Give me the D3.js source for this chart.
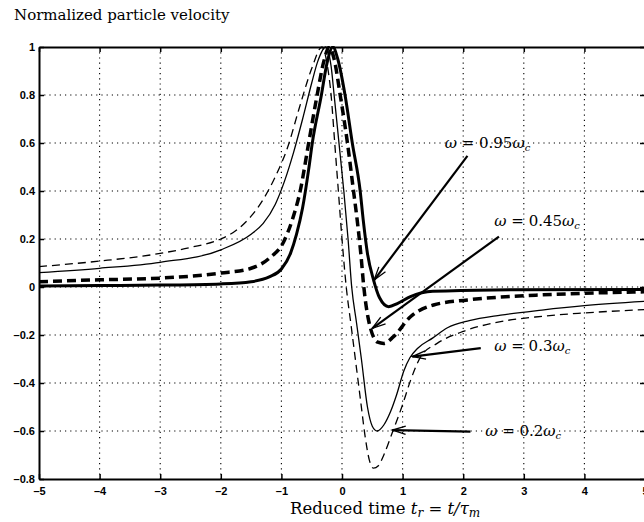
<!DOCTYPE html>
<html>
<head>
<meta charset="utf-8">
<script src="https://cdn.jsdelivr.net/npm/d3@7"></script>
<style>
    body { margin: 0; background: #fff; }
    #chart { width: 644px; height: 522px; overflow: hidden; }
    .tick text { font-family: "Liberation Sans", Arial, sans-serif; font-weight: bold; font-size: 11px; fill: #000; }
    .serif { font-family: "DejaVu Serif", serif; fill: #000; }
</style>
</head>
<body>
<div id="chart"></div>
<script>

// axis ticks
const xTicks = [-5, -4, -3, -2, -1, 0, 1, 2, 3, 4, 5];
const yTicks = [-0.8, -0.6, -0.4, -0.2, 0, 0.2, 0.4, 0.6, 0.8, 1];

// curves: [reduced time, normalized velocity]
const w095 = [[-5, 0.004], [-4, 0.006], [-3, 0.008], [-2, 0.013], [-1.5, 0.022], [-1.2, 0.042], [-1.0, 0.075],
    [-0.85, 0.14], [-0.75, 0.22], [-0.65, 0.33], [-0.55, 0.49], [-0.49, 0.6], [-0.34, 0.8], [-0.25, 0.93],
    [-0.15, 1.0], [-0.07, 0.95], [0.05, 0.8], [0.17, 0.6], [0.3, 0.4], [0.35, 0.28], [0.42, 0.14], [0.52, 0.03],
    [0.62, -0.045], [0.77, -0.082], [0.92, -0.068], [1.13, -0.04], [1.5, -0.018], [2.5, -0.012], [5, -0.01]];

const w045 = [[-5, 0.022], [-4, 0.03], [-3, 0.037], [-2, 0.058], [-1.5, 0.078], [-1.2, 0.12], [-0.96, 0.19],
    [-0.82, 0.28], [-0.69, 0.4], [-0.55, 0.6], [-0.41, 0.8], [-0.3, 0.94], [-0.21, 1.0], [-0.13, 0.95],
    [-0.03, 0.8], [0.09, 0.6], [0.19, 0.4], [0.25, 0.28], [0.31, 0.14], [0.36, 0.0], [0.44, -0.14],
    [0.59, -0.23], [0.69, -0.235], [0.85, -0.207], [1.13, -0.124], [1.51, -0.075], [2.07, -0.054],
    [2.62, -0.042], [3.28, -0.033], [5, -0.02]];

const w03 = [[-5, 0.06], [-4, 0.078], [-3, 0.103], [-2, 0.155], [-1.5, 0.22], [-1.3, 0.265], [-1.1, 0.345],
    [-0.95, 0.44], [-0.8, 0.56], [-0.65, 0.7], [-0.5, 0.85], [-0.4, 0.94], [-0.27, 1.0], [-0.18, 0.92],
    [-0.13, 0.8], [-0.05, 0.6], [0.03, 0.4], [0.1, 0.2], [0.16, 0.0], [0.24, -0.15], [0.32, -0.3],
    [0.42, -0.5], [0.5, -0.58], [0.58, -0.6], [0.69, -0.575], [0.8, -0.52], [0.9, -0.45], [1.02, -0.35],
    [1.12, -0.295], [1.25, -0.255], [1.5, -0.212], [1.74, -0.17], [2.1, -0.14], [2.62, -0.117], [3.3, -0.096],
    [4, -0.078], [5, -0.06]];

const w02 = [[-5, 0.085], [-4, 0.108], [-3, 0.14], [-2.5, 0.165], [-2, 0.2], [-1.75, 0.235], [-1.5, 0.295],
    [-1.3, 0.365], [-1.1, 0.46], [-0.9, 0.58], [-0.7, 0.75], [-0.5, 0.91], [-0.33, 1.0], [-0.24, 0.92],
    [-0.18, 0.8], [-0.12, 0.6], [-0.06, 0.4], [0.0, 0.2], [0.07, 0.0], [0.15, -0.16], [0.23, -0.32],
    [0.31, -0.48], [0.38, -0.62], [0.45, -0.72], [0.52, -0.755], [0.6, -0.745], [0.69, -0.7], [0.84, -0.6],
    [1.0, -0.49], [1.13, -0.39], [1.3, -0.29], [1.57, -0.235], [2.0, -0.185], [2.5, -0.15], [3.3, -0.122],
    [4, -0.108], [5, -0.094]];

// annotations: frequency labels, arrow start, arrow tip, label centre (data units)
const omegaLabels = ["0.95", "0.45", "0.3", "0.2"];
const arrowFrom = [[2.07, 0.546], [2.59, 0.21], [2.29, -0.255], [2.12, -0.603]];
const arrowTo = [[0.53, 0.029], [0.5, -0.172], [1.16, -0.29], [0.83, -0.596]];
const labelAt = [[2.4, 0.6], [3.22, 0.275], [3.14, -0.245], [2.99, -0.6]];

class VelocityVis {

    constructor(parentElement) {
        this.parentElement = parentElement;
        this.initVis();
    }

    initVis() {
        let vis = this;

        vis.margin = {top: 47, right: -1, bottom: 43, left: 39};
        vis.width = 644 - vis.margin.left - vis.margin.right;
        vis.height = 522 - vis.margin.top - vis.margin.bottom;

        vis.svg = d3.select("#" + vis.parentElement).append("svg")
            .attr("width", 644)
            .attr("height", 522);

        vis.g = vis.svg.append("g")
            .attr("transform", `translate(${vis.margin.left}, ${vis.margin.top})`);

        vis.x = d3.scaleLinear().domain([-5, 5]).range([0, vis.width]);
        vis.y = d3.scaleLinear().domain([-0.8, 1]).range([vis.height, 0]);

        // dotted grid
        vis.g.selectAll(".vgrid")
            .data(xTicks.slice(1, -1))
            .enter().append("line")
            .attr("x1", d => vis.x(d)).attr("x2", d => vis.x(d))
            .attr("y1", 0).attr("y2", vis.height)
            .attr("stroke", "#000").attr("stroke-width", 1.1)
            .attr("stroke-dasharray", "1.2,4");

        vis.g.selectAll(".hgrid")
            .data(yTicks.slice(1, -1))
            .enter().append("line")
            .attr("x1", 0).attr("x2", vis.width)
            .attr("y1", d => vis.y(d)).attr("y2", d => vis.y(d))
            .attr("stroke", "#000").attr("stroke-width", 1.1)
            .attr("stroke-dasharray", "1.2,4");

        let fmt = d => (d < 0 ? "\u2013" : "") + Math.abs(d);

        let xAxis = d3.axisBottom(vis.x).tickValues(xTicks).tickFormat(fmt).tickSize(-5).tickSizeOuter(0).tickPadding(8);
        let yAxis = d3.axisLeft(vis.y).tickValues(yTicks).tickFormat(fmt).tickSize(-5).tickSizeOuter(0).tickPadding(4);
        let topAxis = d3.axisTop(vis.x).tickValues(xTicks).tickFormat("").tickSize(-5).tickSizeOuter(0);
        let rightAxis = d3.axisRight(vis.y).tickValues(yTicks).tickFormat("").tickSize(-5).tickSizeOuter(0);

        vis.g.append("g").attr("transform", `translate(0, ${vis.height})`).call(xAxis);
        vis.g.append("g").call(yAxis);
        vis.g.append("g").call(topAxis);
        vis.g.append("g").attr("transform", `translate(${vis.width}, 0)`).call(rightAxis);

        vis.g.selectAll(".domain").attr("stroke", "#000").attr("stroke-width", 2);
        vis.g.selectAll(".tick line").attr("stroke", "#000").attr("stroke-width", 1.5);
        vis.g.selectAll(".tick text").attr("fill", "#000");

        // curves
        vis.g.append("clipPath").attr("id", "plotClip")
            .append("rect").attr("width", vis.width).attr("height", vis.height + 1).attr("y", -1);

        vis.line = d3.line()
            .x(d => vis.x(d[0]))
            .y(d => vis.y(d[1]))
            .curve(d3.curveMonotoneX);

        let series = [
            {data: w02, width: 1.3, dash: "8,5"},
            {data: w03, width: 1.3, dash: null},
            {data: w045, width: 3.5, dash: "9,5"},
            {data: w095, width: 3, dash: null}
        ];

        vis.g.append("g").attr("clip-path", "url(#plotClip)")
            .selectAll(".curve")
            .data(series)
            .enter().append("path")
            .attr("class", "curve")
            .attr("d", d => vis.line(d.data))
            .attr("fill", "none")
            .attr("stroke", "#000")
            .attr("stroke-width", d => d.width)
            .attr("stroke-dasharray", d => d.dash);

        vis.drawAnnotations();

        // title and x label
        vis.svg.append("text")
            .attr("class", "serif")
            .attr("x", 14).attr("y", 20)
            .style("font-size", "15px")
            .text("Normalized particle velocity");

        let xl = vis.svg.append("text")
            .attr("class", "serif")
            .attr("x", 290).attr("y", 514)
            .style("font-size", "16.5px");
        xl.append("tspan").text("Reduced time ");
        xl.append("tspan").style("font-style", "italic").text("t");
        xl.append("tspan").style("font-style", "italic").style("font-size", "12px").attr("dy", 3).text("r");
        xl.append("tspan").attr("dy", -3).text(" = ");
        xl.append("tspan").style("font-style", "italic").text("t/\u03c4");
        xl.append("tspan").style("font-style", "italic").style("font-size", "12px").attr("dy", 3).text("m");
    }

    drawAnnotations() {
        let vis = this;
        let ann = vis.g.append("g");

        omegaLabels.forEach((lab, i) => {
            let x0 = vis.x(arrowFrom[i][0]), y0 = vis.y(arrowFrom[i][1]);
            let x1 = vis.x(arrowTo[i][0]), y1 = vis.y(arrowTo[i][1]);
            let ang = Math.atan2(y0 - y1, x0 - x1);
            let len = 14, spread = 0.3;

            ann.append("line")
                .attr("x1", x0).attr("y1", y0).attr("x2", x1).attr("y2", y1)
                .attr("stroke", "#000").attr("stroke-width", 2.2);

            ann.append("path")
                .attr("d", `M${x1 + len * Math.cos(ang + spread)},${y1 + len * Math.sin(ang + spread)}` +
                    `L${x1},${y1}L${x1 + len * Math.cos(ang - spread)},${y1 + len * Math.sin(ang - spread)}`)
                .attr("fill", "none").attr("stroke", "#000").attr("stroke-width", 1.3);

            let t = ann.append("text")
                .attr("class", "serif")
                .attr("x", vis.x(labelAt[i][0])).attr("y", vis.y(labelAt[i][1]) + 5)
                .attr("text-anchor", "middle")
                .style("font-size", "15px");
            t.append("tspan").style("font-style", "italic").text("\u03c9");
            t.append("tspan").text(" = " + lab);
            t.append("tspan").style("font-style", "italic").text("\u03c9");
            t.append("tspan").style("font-style", "italic").style("font-size", "10px").attr("dy", 3).text("c");
        });
    }
}

new VelocityVis("chart");
</script>
</body>
</html>
